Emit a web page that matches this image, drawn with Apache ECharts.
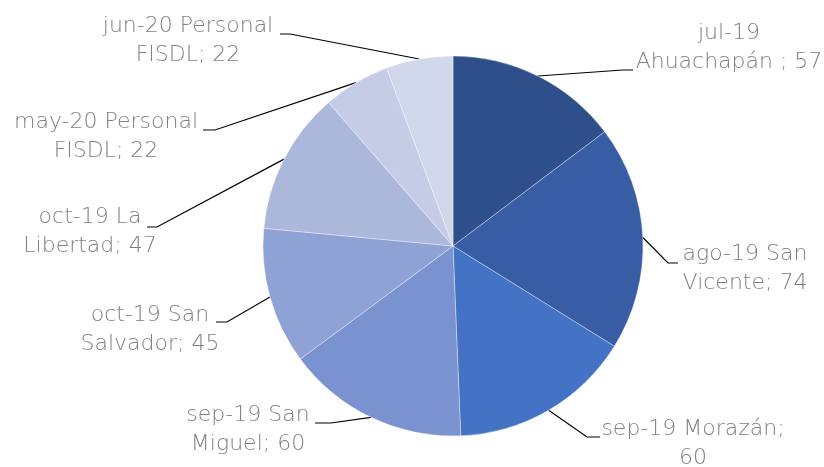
<!DOCTYPE html>
<html>
<head>
<meta charset="utf-8">
<script src="https://cdn.jsdelivr.net/npm/echarts@6/dist/echarts.min.js"></script>
<style>html,body{margin:0;padding:0;background:#fff;}#c{width:824px;height:467px;}</style>
</head>
<body>
<div id="c"></div>
<script>
const categories = ['jul-19\nAhuachapán ; 57', 'ago-19 San\nVicente; 74', 'sep-19 Morazán;\n60', 'sep-19 San\nMiguel; 60', 'oct-19 San\nSalvador; 45', 'oct-19 La\nLibertad; 47', 'may-20 Personal\nFISDL; 22', 'jun-20 Personal\nFISDL; 22'];
const values = [57, 74, 60, 60, 45, 47, 22, 22];
const colors = ['#2E4F8A', '#385DA4', '#4472C4', '#7A92CF', '#8FA2D5', '#ABB8DC', '#C4CCE6', '#D2D8EC'];
// label layout: [elbowX, elbowY, endX, labelCenterX, labelCenterY]
const labelPlaces = [
  [623, 70, 633, 729, 48],
  [668, 263, 678, 745, 269],
  [587, 437, 600, 693, 444],
  [331, 423, 315, 248, 430],
  [227, 322, 216, 150, 330],
  [157, 227, 147, 90, 232],
  [215, 130, 203, 106, 137],
  [290, 34, 280, 188, 41]
];
const chart = echarts.init(document.getElementById('c'));
chart.setOption({
  animation: false,
  series: [{
    type: 'pie',
    center: [453, 246],
    radius: 190,
    startAngle: 90,
    clockwise: true,
    avoidLabelOverlap: false,
    data: values.map((v, i) => ({ value: v, name: categories[i], itemStyle: { color: colors[i] } })),
    itemStyle: { borderColor: 'rgba(255,255,255,0.6)', borderWidth: 0.6 },
    label: {
      show: true,
      position: 'outside',
      formatter: '{b}',
      color: '#7F7F7F',
      fontFamily: 'DejaVu Sans',
      fontWeight: 200,
      fontSize: 22,
      lineHeight: 29
    },
    labelLine: { show: true, lineStyle: { color: '#000', width: 1.2 } },
    emphasis: { disabled: true },
    labelLayout: function (p) {
      const L = labelPlaces[p.dataIndex];
      const start = p.labelLinePoints ? p.labelLinePoints[0] : [L[0], L[1]];
      return {
        x: L[3], y: L[4], align: 'center', verticalAlign: 'middle',
        labelLinePoints: [start, [L[0], L[1]], [L[2], L[1]]]
      };
    }
  }]
});
</script>
</body>
</html>
